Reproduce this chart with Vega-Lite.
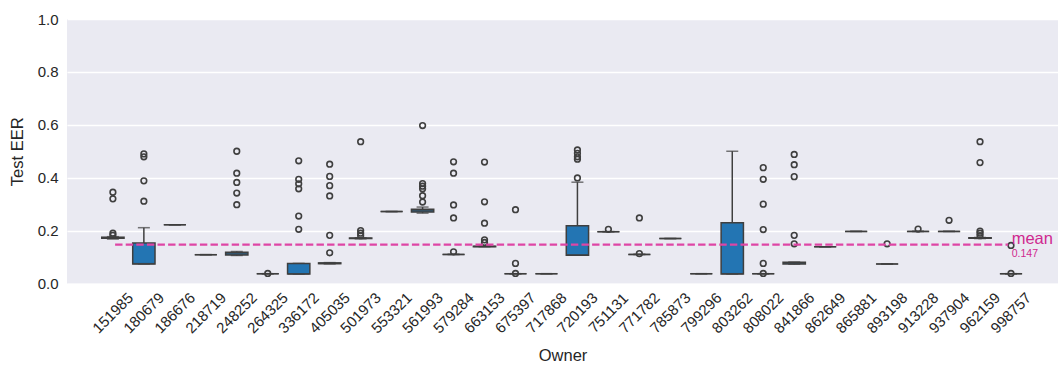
{
  "$schema": "https://vega.github.io/schema/vega-lite/v6.json",
  "autosize": {"type": "none"},
  "width": 991,
  "height": 264.5,
  "padding": {"left": 67, "top": 19, "right": 0, "bottom": 81.5},
  "background": "white",
  "config": {
    "view": {"fill": "#eaeaf2", "stroke": null},
    "font": "Liberation Sans",
    "axis": {"labelFont": "Liberation Sans", "titleFont": "Liberation Sans", "labelColor": "#262626", "titleColor": "#262626", "titleFontWeight": "normal", "domain": false, "ticks": false, "tickSize": 0}
  },
  "datasets": {
    "stats": [
      {"owner": "151985", "lo": 0.168, "q1": 0.171, "med": 0.172, "q3": 0.175, "hi": 0.177},
      {"owner": "180679", "lo": 0.074, "q1": 0.074, "med": 0.075, "q3": 0.153, "hi": 0.211},
      {"owner": "186676", "lo": 0.222, "q1": 0.222, "med": 0.222, "q3": 0.222, "hi": 0.222},
      {"owner": "218719", "lo": 0.109, "q1": 0.109, "med": 0.109, "q3": 0.109, "hi": 0.109},
      {"owner": "248252", "lo": 0.106, "q1": 0.108, "med": 0.112, "q3": 0.118, "hi": 0.121},
      {"owner": "264325", "lo": 0.037, "q1": 0.037, "med": 0.037, "q3": 0.037, "hi": 0.037},
      {"owner": "336172", "lo": 0.036, "q1": 0.036, "med": 0.036, "q3": 0.076, "hi": 0.076},
      {"owner": "405035", "lo": 0.074, "q1": 0.075, "med": 0.076, "q3": 0.078, "hi": 0.079},
      {"owner": "501973", "lo": 0.169, "q1": 0.17, "med": 0.171, "q3": 0.172, "hi": 0.173},
      {"owner": "553321", "lo": 0.272, "q1": 0.272, "med": 0.272, "q3": 0.272, "hi": 0.272},
      {"owner": "561993", "lo": 0.266, "q1": 0.27, "med": 0.275, "q3": 0.281, "hi": 0.289},
      {"owner": "579284", "lo": 0.11, "q1": 0.11, "med": 0.11, "q3": 0.11, "hi": 0.11},
      {"owner": "663153", "lo": 0.139, "q1": 0.139, "med": 0.14, "q3": 0.141, "hi": 0.142},
      {"owner": "675397", "lo": 0.037, "q1": 0.037, "med": 0.037, "q3": 0.037, "hi": 0.037},
      {"owner": "717868", "lo": 0.037, "q1": 0.037, "med": 0.037, "q3": 0.037, "hi": 0.037},
      {"owner": "720193", "lo": 0.107, "q1": 0.107, "med": 0.108, "q3": 0.218, "hi": 0.383},
      {"owner": "751131", "lo": 0.196, "q1": 0.196, "med": 0.196, "q3": 0.196, "hi": 0.196},
      {"owner": "771782", "lo": 0.11, "q1": 0.11, "med": 0.11, "q3": 0.11, "hi": 0.11},
      {"owner": "785873", "lo": 0.17, "q1": 0.17, "med": 0.17, "q3": 0.17, "hi": 0.17},
      {"owner": "799296", "lo": 0.037, "q1": 0.037, "med": 0.037, "q3": 0.037, "hi": 0.037},
      {"owner": "803262", "lo": 0.036, "q1": 0.036, "med": 0.037, "q3": 0.23, "hi": 0.5},
      {"owner": "808022", "lo": 0.037, "q1": 0.037, "med": 0.037, "q3": 0.037, "hi": 0.037},
      {"owner": "841866", "lo": 0.073, "q1": 0.074, "med": 0.077, "q3": 0.08, "hi": 0.081},
      {"owner": "862649", "lo": 0.139, "q1": 0.139, "med": 0.139, "q3": 0.139, "hi": 0.139},
      {"owner": "865881", "lo": 0.197, "q1": 0.197, "med": 0.197, "q3": 0.197, "hi": 0.197},
      {"owner": "893198", "lo": 0.074, "q1": 0.074, "med": 0.074, "q3": 0.074, "hi": 0.074},
      {"owner": "913228", "lo": 0.197, "q1": 0.197, "med": 0.197, "q3": 0.197, "hi": 0.197},
      {"owner": "937904", "lo": 0.197, "q1": 0.197, "med": 0.197, "q3": 0.197, "hi": 0.197},
      {"owner": "962159", "lo": 0.17, "q1": 0.171, "med": 0.172, "q3": 0.173, "hi": 0.174},
      {"owner": "998757", "lo": 0.037, "q1": 0.037, "med": 0.037, "q3": 0.037, "hi": 0.037}
    ],
    "outliers": [
      {"owner": "151985", "value": 0.345}, {"owner": "151985", "value": 0.32}, {"owner": "151985", "value": 0.19}, {"owner": "151985", "value": 0.182},
      {"owner": "180679", "value": 0.49}, {"owner": "180679", "value": 0.479}, {"owner": "180679", "value": 0.388}, {"owner": "180679", "value": 0.311},
      {"owner": "248252", "value": 0.5}, {"owner": "248252", "value": 0.417}, {"owner": "248252", "value": 0.382}, {"owner": "248252", "value": 0.342}, {"owner": "248252", "value": 0.298},
      {"owner": "264325", "value": 0.038},
      {"owner": "336172", "value": 0.464}, {"owner": "336172", "value": 0.394}, {"owner": "336172", "value": 0.377}, {"owner": "336172", "value": 0.358}, {"owner": "336172", "value": 0.255}, {"owner": "336172", "value": 0.205},
      {"owner": "405035", "value": 0.451}, {"owner": "405035", "value": 0.405}, {"owner": "405035", "value": 0.37}, {"owner": "405035", "value": 0.331}, {"owner": "405035", "value": 0.182}, {"owner": "405035", "value": 0.116},
      {"owner": "501973", "value": 0.536}, {"owner": "501973", "value": 0.2}, {"owner": "501973", "value": 0.19}, {"owner": "501973", "value": 0.181},
      {"owner": "561993", "value": 0.597}, {"owner": "561993", "value": 0.378}, {"owner": "561993", "value": 0.368}, {"owner": "561993", "value": 0.358}, {"owner": "561993", "value": 0.332}, {"owner": "561993", "value": 0.308},
      {"owner": "579284", "value": 0.46}, {"owner": "579284", "value": 0.417}, {"owner": "579284", "value": 0.297}, {"owner": "579284", "value": 0.248}, {"owner": "579284", "value": 0.12},
      {"owner": "663153", "value": 0.459}, {"owner": "663153", "value": 0.309}, {"owner": "663153", "value": 0.228}, {"owner": "663153", "value": 0.165}, {"owner": "663153", "value": 0.155},
      {"owner": "675397", "value": 0.279}, {"owner": "675397", "value": 0.076}, {"owner": "675397", "value": 0.038},
      {"owner": "720193", "value": 0.505}, {"owner": "720193", "value": 0.492}, {"owner": "720193", "value": 0.479}, {"owner": "720193", "value": 0.47}, {"owner": "720193", "value": 0.399},
      {"owner": "751131", "value": 0.205},
      {"owner": "771782", "value": 0.248}, {"owner": "771782", "value": 0.113},
      {"owner": "808022", "value": 0.438}, {"owner": "808022", "value": 0.394}, {"owner": "808022", "value": 0.3}, {"owner": "808022", "value": 0.204}, {"owner": "808022", "value": 0.076}, {"owner": "808022", "value": 0.038},
      {"owner": "841866", "value": 0.488}, {"owner": "841866", "value": 0.449}, {"owner": "841866", "value": 0.404}, {"owner": "841866", "value": 0.182}, {"owner": "841866", "value": 0.15},
      {"owner": "893198", "value": 0.15},
      {"owner": "913228", "value": 0.206},
      {"owner": "937904", "value": 0.239},
      {"owner": "962159", "value": 0.536}, {"owner": "962159", "value": 0.457}, {"owner": "962159", "value": 0.198}, {"owner": "962159", "value": 0.19}, {"owner": "962159", "value": 0.181},
      {"owner": "998757", "value": 0.144}, {"owner": "998757", "value": 0.038}
    ],
    "mean": [{"value": 0.147, "label": "mean"}]
  },
  "layer": [
    {
      "layer": [
        {
          "data": {"name": "stats"},
          "mark": {"type": "rule", "color": "#3f3f3f", "strokeWidth": 1.5},
          "encoding": {
            "x": {"field": "owner", "type": "nominal"},
            "y": {"field": "lo", "type": "quantitative"},
            "y2": {"field": "q1"}
          }
        },
        {
          "data": {"name": "stats"},
          "mark": {"type": "rule", "color": "#3f3f3f", "strokeWidth": 1.5},
          "encoding": {
            "x": {"field": "owner", "type": "nominal"},
            "y": {"field": "q3", "type": "quantitative"},
            "y2": {"field": "hi"}
          }
        },
        {
          "data": {"name": "stats"},
          "mark": {"type": "tick", "color": "#3f3f3f", "thickness": 1.5, "size": 12, "orient": "horizontal"},
          "encoding": {
            "x": {"field": "owner", "type": "nominal"},
            "y": {"field": "lo", "type": "quantitative"}
          }
        },
        {
          "data": {"name": "stats"},
          "mark": {"type": "tick", "color": "#3f3f3f", "thickness": 1.5, "size": 12, "orient": "horizontal"},
          "encoding": {
            "x": {"field": "owner", "type": "nominal"},
            "y": {"field": "hi", "type": "quantitative"}
          }
        },
        {
          "data": {"name": "stats"},
          "mark": {"type": "bar", "fill": "#2375b3", "stroke": "#3f3f3f", "strokeWidth": 1.5, "width": {"band": 0.72}},
          "encoding": {
            "x": {"field": "owner", "type": "nominal"},
            "y": {"field": "q1", "type": "quantitative"},
            "y2": {"field": "q3"}
          }
        },
        {
          "data": {"name": "stats"},
          "mark": {"type": "tick", "color": "#3f3f3f", "thickness": 1.5, "size": 21.5, "orient": "horizontal"},
          "encoding": {
            "x": {"field": "owner", "type": "nominal"},
            "y": {"field": "med", "type": "quantitative"}
          }
        },
        {
          "data": {"name": "outliers"},
          "mark": {"type": "point", "shape": "circle", "filled": false, "stroke": "#3f3f3f", "strokeWidth": 1.6, "size": 32, "opacity": 1},
          "encoding": {
            "x": {"field": "owner", "type": "nominal"},
            "y": {"field": "value", "type": "quantitative"}
          }
        }
      ],
      "encoding": {
        "x": {
          "field": "owner", "type": "nominal",
          "scale": {"paddingInner": 0, "paddingOuter": 1.644, "align": 0.491},
          "axis": {"title": "Owner", "titleFontSize": 16.5, "titlePadding": 12, "labelFontSize": 15, "labelAngle": -45, "labelAlign": "center", "labelBaseline": "middle", "labelPadding": 29, "grid": false}
        },
        "y": {
          "type": "quantitative",
          "title": "Test EER",
          "scale": {"domain": [0, 1], "nice": false, "zero": true},
          "axis": {"values": [0, 0.2, 0.4, 0.6, 0.8, 1.0], "format": ".1f", "labelFontSize": 15, "titleFontSize": 16.5, "labelPadding": 9, "titlePadding": 12, "grid": true, "gridColor": "white", "gridWidth": 1.5}
        }
      }
    },
    {
      "data": {"name": "mean"},
      "layer": [
        {
          "mark": {"type": "rule", "color": "#de45a5", "strokeWidth": 2.3, "strokeDash": [7.4, 3.2]},
          "encoding": {
            "x": {"datum": -0.5, "type": "quantitative", "scale": {"domain": [-2.116, 31.173], "nice": false, "zero": false}, "axis": null},
            "x2": {"datum": 29.5},
            "y": {"field": "value", "type": "quantitative", "title": "Test EER"}
          }
        },
        {
          "mark": {"type": "text", "align": "left", "baseline": "alphabetic", "dx": 3.5, "dy": -0.5, "fontSize": 16.5, "color": "#d0288f"},
          "encoding": {
            "x": {"datum": 29.5, "type": "quantitative"},
            "y": {"field": "value", "type": "quantitative", "title": "Test EER"},
            "text": {"field": "label"}
          }
        },
        {
          "mark": {"type": "text", "align": "left", "baseline": "alphabetic", "dx": 3.5, "dy": 12.5, "fontSize": 10.5, "color": "#d0288f"},
          "encoding": {
            "x": {"datum": 29.5, "type": "quantitative"},
            "y": {"field": "value", "type": "quantitative", "title": "Test EER"},
            "text": {"field": "value", "format": ".3f"}
          }
        }
      ]
    }
  ],
  "resolve": {"scale": {"x": "independent"}, "axis": {"x": "independent"}}
}
